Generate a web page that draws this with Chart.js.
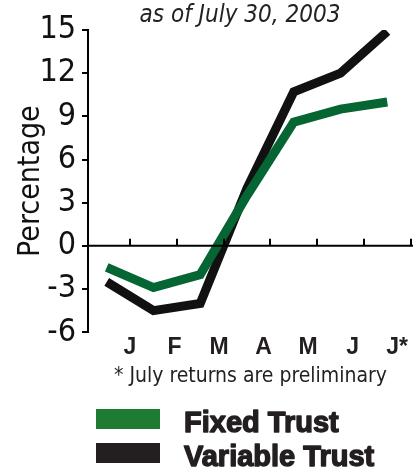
<!DOCTYPE html>
<html>
<head>
<meta charset="utf-8">
<script src="https://cdn.jsdelivr.net/npm/chart.js@4/dist/chart.umd.min.js"></script>
<style>
    html, body { margin: 0; padding: 0; background: #fff; }
    #wrap { width: 419px; height: 468px; position: relative; }
</style>
</head>
<body>
<div id="wrap"><canvas id="returnsChart"></canvas></div>
<script>
const titleText = "as of July 30, 2003";
const footnoteText = "* July returns are preliminary";
const monthLabels = ["J", "F", "M", "A", "M", "J", "J*"];
// points sit at month boundaries, labels in between
const pointPos = [0, 1, 2, 3, 4, 5, 6];
const fixedTrust = [-1.5, -2.9, -2.0, 3.5, 8.6, 9.5, 10.0];
const variableTrust = [-2.5, -4.5, -4.0, 4.0, 10.7, 12.0, 14.9];
const yTicks = [-6, -3, 0, 3, 6, 9, 12, 15];

const GREEN = "#066633";
const BLACK = "#111111";
const narrow = "'Liberation Sans Narrow', 'DejaVu Sans Condensed', 'Liberation Sans', sans-serif";

// zero line with little upward ticks, plus title and legend
const extrasPlugin = {
    id: "extras",
    afterDraw(chart) {
        const ctx = chart.ctx;
        const x = chart.scales.x;
        const y = chart.scales.y;
        const y0 = y.getPixelForValue(0);
        ctx.save();
        ctx.strokeStyle = "#000";
        ctx.lineWidth = 2;
        ctx.beginPath();
        ctx.moveTo(chart.chartArea.left, y0);
        ctx.lineTo(chart.chartArea.right, y0);
        monthLabels.forEach((m, i) => {
            const px = Math.round(x.getPixelForValue(i + 0.5));
            ctx.moveTo(px, y0);
            ctx.lineTo(px, y0 - 7);
        });
        ctx.stroke();

        ctx.fillStyle = "#222";
        ctx.font = "italic 24px " + narrow;
        ctx.textAlign = "center";
        ctx.textBaseline = "middle";
        ctx.fillText(titleText, 240, 16);

        const items = chart.data.datasets;
        ctx.textAlign = "left";
        ctx.textBaseline = "alphabetic";
        ctx.font = "bold 29px 'Liberation Sans', Arial, sans-serif";
        ctx.lineWidth = 1.4;
        ctx.lineJoin = "round";
        items.forEach((ds, i) => {
            const top = 409 + i * 34;
            ctx.fillStyle = ds.legendColor;
            ctx.fillRect(96, top, 64, 20);
            ctx.fillStyle = "#231f20";
            ctx.strokeStyle = "#231f20";
            ctx.fillText(ds.label, 184, top + 23);
            ctx.strokeText(ds.label, 184, top + 23);
        });
        ctx.restore();
    }
};

new Chart(document.getElementById("returnsChart"), {
    type: "line",
    data: {
        datasets: [
            {
                label: "Fixed Trust",
                data: pointPos.map((p, i) => ({ x: p, y: fixedTrust[i] })),
                borderColor: GREEN,
                legendColor: "#1f7a32",
                borderWidth: 9,
                pointRadius: 0,
                tension: 0,
                borderJoinStyle: "miter"
            },
            {
                label: "Variable Trust",
                data: pointPos.map((p, i) => ({ x: p, y: variableTrust[i] })),
                borderColor: BLACK,
                legendColor: "#231f20",
                borderWidth: 9,
                pointRadius: 0,
                tension: 0,
                borderJoinStyle: "miter"
            }
        ]
    },
    options: {
        responsive: true,
        maintainAspectRatio: false,
        animation: false,
        layout: { padding: { top: 30, right: 6, bottom: 79, left: 13 } },
        plugins: {
            legend: { display: false },
            tooltip: { enabled: false }
        },
        scales: {
            x: {
                type: "linear",
                min: -0.4,
                max: 6.55,
                display: false
            },
            months: {
                type: "linear",
                position: "bottom",
                min: -0.444,
                max: 6.859,
                border: { display: false },
                grid: { display: false, drawTicks: false },
                afterBuildTicks: axis => {
                    axis.ticks = monthLabels.map((m, i) => ({ value: i + 0.5 }));
                },
                ticks: {
                    autoSkip: false,
                    maxRotation: 0,
                    padding: 2,
                    color: "#231f20",
                    font: { family: "'Liberation Sans', Arial, sans-serif", weight: "bold", size: 23 },
                    callback: (v, i) => monthLabels[i]
                },
                title: {
                    display: true,
                    text: footnoteText,
                    color: "#231f20",
                    padding: { top: 0, bottom: 0 },
                    font: { family: narrow, size: 21 }
                }
            },
            y: {
                min: -6,
                max: 15,
                border: { display: true, color: "#000", width: 2 },
                grid: { drawOnChartArea: false, drawTicks: true, tickLength: 6, color: "#000", lineWidth: 2 },
                afterBuildTicks: axis => {
                    axis.ticks = yTicks.map(v => ({ value: v }));
                },
                afterFit: axis => {
                    axis.width = 75;
                },
                ticks: {
                    autoSkip: false,
                    padding: 6,
                    color: "#111",
                    font: { family: narrow, size: 32 }
                },
                title: {
                    display: true,
                    text: "Percentage",
                    color: "#111",
                    padding: { top: 0, bottom: 0 },
                    font: { family: narrow, size: 30 }
                }
            }
        }
    },
    plugins: [extrasPlugin]
});
</script>
</body>
</html>
